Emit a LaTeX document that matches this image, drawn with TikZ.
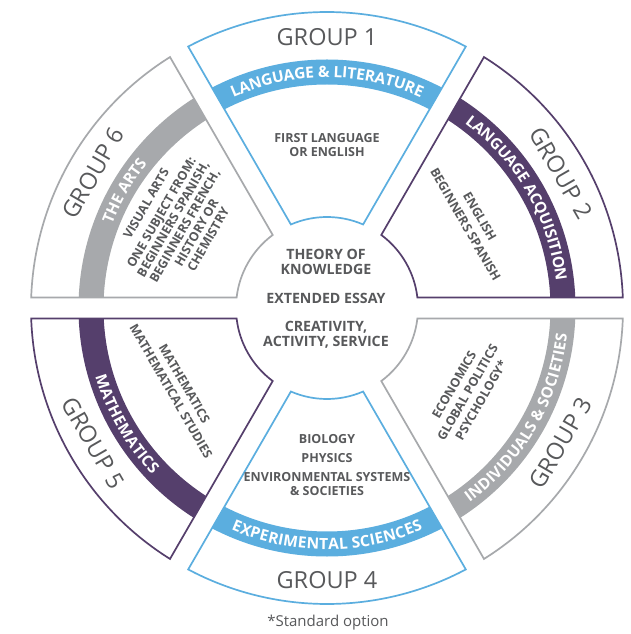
\documentclass[tikz,border=0pt]{standalone}
\usepackage{fontspec}
\setmainfont{Open Sans}
\usetikzlibrary{decorations.text}
\definecolor{ibblue}{HTML}{5BAEDF}
\definecolor{ibpurple}{HTML}{553F6C}
\definecolor{ibgray}{HTML}{A7A9AC}
\definecolor{ibtext}{HTML}{58595B}
\newcommand\bandfont{\bfseries\fontsize{15.5}{16}\selectfont\color{white}}
\tikzset{
  grouplabel/.style={font=\fontsize{23.5}{24}\selectfont, text=ibtext, inner sep=0},
  subjects/.style={font=\bfseries\fontsize{12.5}{13.5}\selectfont, text=ibtext, align=center, inner sep=0},
  core/.style={font=\bfseries\fontsize{14.2}{15.3}\selectfont, text=ibtext, align=center, inner sep=0},
  segborder/.style={line width=1.7pt, line join=miter},
  bandtext/.style={decorate, decoration={text along path, text align=center, raise=-5.5pt, text={|\bandfont|#1}}},
}
\begin{document}
\begin{tikzpicture}[x=1pt,y=1pt]
\useasboundingbox[fill=white] (-327,-326) rectangle (303,308);
% segments
\foreach \a/\c in {90/ibblue,30/ibpurple,-30/ibgray,-90/ibblue,-150/ibpurple,150/ibgray}{
  \begin{scope}
    \clip ({\a-27.967}:296) arc[start angle={\a-27.967}, end angle={\a+27.967}, radius=296]
      -- ({\a+23.375}:91) arc[start angle={\a+23.375}, end angle={\a-23.375}, radius=91] -- cycle;
    \fill[\c, even odd rule] (0,0) circle[radius=248.5] circle[radius=223.5];
  \end{scope}
  \draw[segborder, draw=\c] ({\a-27.967}:296) arc[start angle={\a-27.967}, end angle={\a+27.967}, radius=296]
      -- ({\a+23.375}:91) arc[start angle={\a+23.375}, end angle={\a-23.375}, radius=91] -- cycle;
}
% band labels
\path[bandtext={LANGUAGE {\&} LITERATURE}] (120:236) arc[start angle=120, end angle=60, radius=236];
\path[bandtext={LANGUAGE ACQUISITION}] (60:236) arc[start angle=60, end angle=0, radius=236];
\path[bandtext={INDIVIDUALS {\&} SOCIETIES}] (-60:236) arc[start angle=-60, end angle=0, radius=236];
\path[bandtext={EXPERIMENTAL SCIENCES}] (-120:236) arc[start angle=-120, end angle=-60, radius=236];
\path[bandtext={MATHEMATICS}] (180:236) arc[start angle=180, end angle=240, radius=236];
\path[bandtext={THE ARTS}] (180:236) arc[start angle=180, end angle=120, radius=236];
% group labels
\node[grouplabel] (g1) at (90:271) {GROUP 1};
\node[grouplabel, rotate=-60] (g2) at (30:270) {GROUP 2};
\node[grouplabel, rotate=60] (g3) at (-30:270) {GROUP 3};
\node[grouplabel] (g4) at (-90:272) {GROUP 4};
\node[grouplabel, rotate=-60] (g5) at (-150:270) {GROUP 5};
\node[grouplabel, rotate=60] (g6) at (150:270) {GROUP 6};
% subjects
\node[subjects] (s1) at (0,163) {FIRST LANGUAGE\\OR ENGLISH};
\node[subjects, rotate=-60] (s2) at (31:170) {ENGLISH\\[3pt]BEGINNERS SPANISH};
\node[subjects, rotate=60] (s3) at (-31:164) {ECONOMICS\\[2pt]GLOBAL POLITICS\\[2pt]PSYCHOLOGY*};
\node[subjects] (s4) at (0,-157) {BIOLOGY\\[5.5pt]PHYSICS\\[5.5pt]ENVIRONMENTAL SYSTEMS\\\& SOCIETIES};
\node[subjects, rotate=-60] (s5) at (208:169) {MATHEMATICS\\[2pt]MATHEMATICAL STUDIES};
\node[subjects, rotate=60] (s6) at (150:173) {VISUAL ARTS\\[4pt]ONE SUBJECT FROM:\\BEGINNERS SPANISH,\\BEGINNERS FRENCH,\\HISTORY OR\\CHEMISTRY};
% core
\node[core] (core) at (-1,9) {THEORY OF\\KNOWLEDGE\\[13pt]EXTENDED ESSAY\\[13pt]CREATIVITY,\\ACTIVITY, SERVICE};
\node[font=\fontsize{15}{16}\selectfont, text=ibtext, inner sep=0] (note) at (1,-315) {*Standard option};
\end{tikzpicture}
\end{document}
